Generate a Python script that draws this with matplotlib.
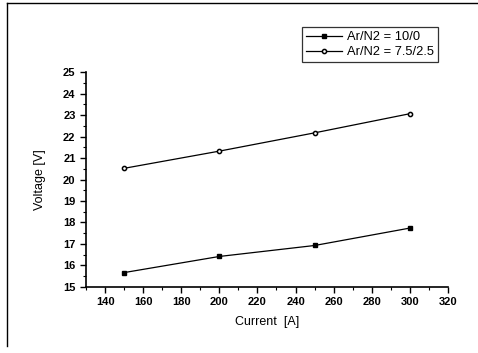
import numpy as np
import matplotlib.pyplot as plt
from matplotlib.lines import Line2D

# Data
current = [150, 200, 250, 300]
v_ar_10_0 = [15.67, 16.42, 16.93, 17.74]
v_ar_75_25 = [20.52, 21.32, 22.17, 23.06]

plt.rcParams['font.family'] = ['Liberation Sans', 'DejaVu Sans']

fig = plt.figure(figsize=(4.78, 3.53), dpi=100)
ax = fig.add_axes([0.180, 0.187, 0.757, 0.609])

ax.plot(current, v_ar_10_0, '-', color='black', linewidth=0.9,
        marker='s', markersize=3.2, markerfacecolor='black', label='Ar/N2 = 10/0')
ax.plot(current, v_ar_75_25, '-', color='black', linewidth=0.9,
        marker='o', markersize=3, markerfacecolor='white', markeredgewidth=1.1,
        label='Ar/N2 = 7.5/2.5')

ax.set_xlim(130, 320)
ax.set_ylim(15, 25)
ax.set_xticks(np.arange(140, 321, 20))
ax.set_xticks(np.arange(130, 321, 10), minor=True)
ax.set_yticks(np.arange(15, 26, 1))
ax.set_yticks(np.arange(15, 25.1, 0.5), minor=True)

for s in ['top', 'right']:
    ax.spines[s].set_visible(False)
for s in ['left', 'bottom']:
    ax.spines[s].set_linewidth(1.2)

ax.tick_params(which='major', direction='out', length=4, width=1, labelsize=8)
ax.tick_params(which='minor', direction='out', length=2.5, width=0.8)
for t in ax.get_xticklabels() + ax.get_yticklabels():
    t.set_fontweight('bold')

ax.set_xlabel('Current  [A]', fontsize=9, labelpad=6)
ax.set_ylabel('Voltage [V]', fontsize=9, labelpad=12)

leg = fig.legend(loc='upper right', bbox_to_anchor=(0.916, 0.923), fontsize=9.3,
                 frameon=True, fancybox=False, edgecolor='black',
                 handlelength=2.8, handletextpad=0.4, borderpad=0.3,
                 labelspacing=0.25, borderaxespad=0)
leg.get_frame().set_linewidth(0.9)

# scanned page border (left and top)
fig.add_artist(Line2D([0.015, 0.015], [0.02, 0.992], color='black', linewidth=1,
                      transform=fig.transFigure))
fig.add_artist(Line2D([0.015, 0.998], [0.992, 0.992], color='black', linewidth=1,
                      transform=fig.transFigure))

fig.savefig('out.png', dpi=100)
